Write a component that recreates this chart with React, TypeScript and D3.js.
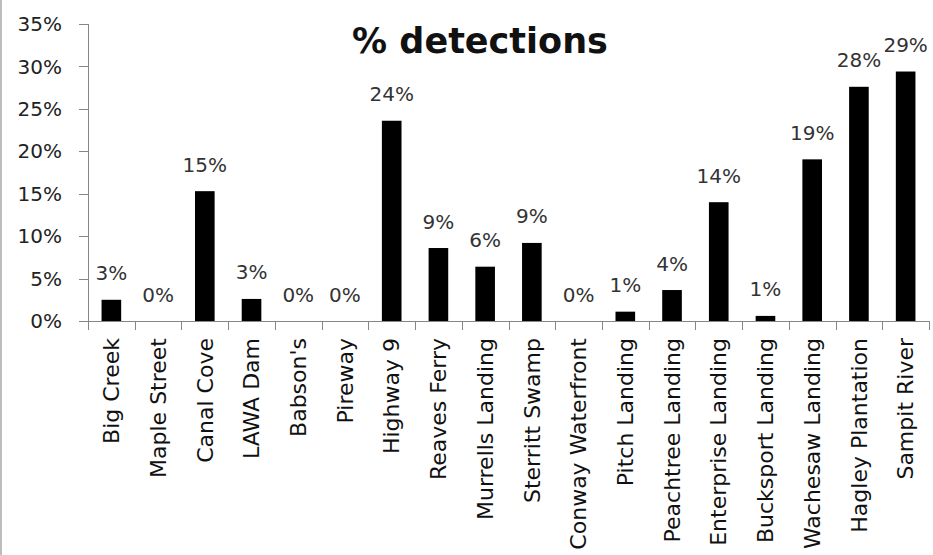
import React from "react";
import * as d3 from "d3";

const categories = [
  "Big Creek", "Maple Street", "Canal Cove", "LAWA Dam", "Babson's", "Pireway",
  "Highway 9", "Reaves Ferry", "Murrells Landing", "Sterritt Swamp", "Conway Waterfront",
  "Pitch Landing", "Peachtree Landing", "Enterprise Landing", "Bucksport Landing",
  "Wachesaw Landing", "Hagley Plantation", "Sampit River",
];
const detections = [2.5, 0, 15.3, 2.6, 0, 0, 23.6, 8.6, 6.4, 9.2, 0, 1.1, 3.65, 14.0, 0.6, 19.05, 27.6, 29.4];
const yTicks = [0, 5, 10, 15, 20, 25, 30, 35];
const title = "% detections";

const W = 933, H = 555;
const M = { left: 88, right: 929, top: 24, bottom: 321 };
const FONT = "'DejaVu Sans', sans-serif";

export default function App() {
  const cat = d3.scaleBand<string>().domain(categories).range([M.left, M.right]).padding(0);
  const xb = d3.scaleBand<string>().domain(categories).range([M.left, M.right]).paddingInner(0.58).paddingOuter(0.29);
  const y = d3.scaleLinear().domain([0, 35]).range([M.bottom, M.top]);
  const step = cat.step();

  return (
    <svg width={W} height={H} style={{ position: "absolute", left: 0, top: 0, background: "#fff" }} fontFamily={FONT}>
      <rect x={0} y={0} width={W} height={H} fill="#fff" />
      <line x1={1} x2={1} y1={0} y2={H} stroke="#bdbdbd" strokeWidth={2} />
      {/* y axis */}
      <line x1={M.left + 0.5} x2={M.left + 0.5} y1={M.top} y2={M.bottom} stroke="#868686" />
      {yTicks.map((t) => (
        <g key={t}>
          <line x1={M.left - 9} x2={M.left} y1={Math.round(y(t)) + 0.5} y2={Math.round(y(t)) + 0.5} stroke="#868686" />
          <text x={62} y={y(t)} dy="0.36em" textAnchor="end" fontSize={20} fill="#222">{t + "%"}</text>
        </g>
      ))}
      {/* x axis */}
      <line x1={M.left} x2={M.right} y1={M.bottom + 0.5} y2={M.bottom + 0.5} stroke="#868686" />
      {d3.range(categories.length + 1).map((i) => {
        const xx = Math.round(M.left + i * step) + 0.5;
        return <line key={i} x1={xx} x2={xx} y1={M.bottom} y2={M.bottom + 9} stroke="#868686" />;
      })}
      {/* bars */}
      {categories.map((c, i) => {
        const v = detections[i];
        return (
          <g key={c}>
            {v > 0 && (
              <rect x={xb(c)} y={y(v)} width={xb.bandwidth()} height={y(0) - y(v)} fill="#000" />
            )}
            <text x={(xb(c) as number) + xb.bandwidth() / 2} y={y(v) - 19.5} textAnchor="middle" fontSize={20} fill="#333">
              {Math.round(v) + "%"}
            </text>
            <text
              transform={`translate(${(cat(c) as number) + step / 2},338) rotate(-90)`}
              textAnchor="end"
              dy="0.35em"
              fontSize={22}
              fill="#111"
            >
              {c}
            </text>
          </g>
        );
      })}
      <text x={480} y={53} textAnchor="middle" fontSize={35} fontWeight="bold" fill="#111">{title}</text>
    </svg>
  );
}
